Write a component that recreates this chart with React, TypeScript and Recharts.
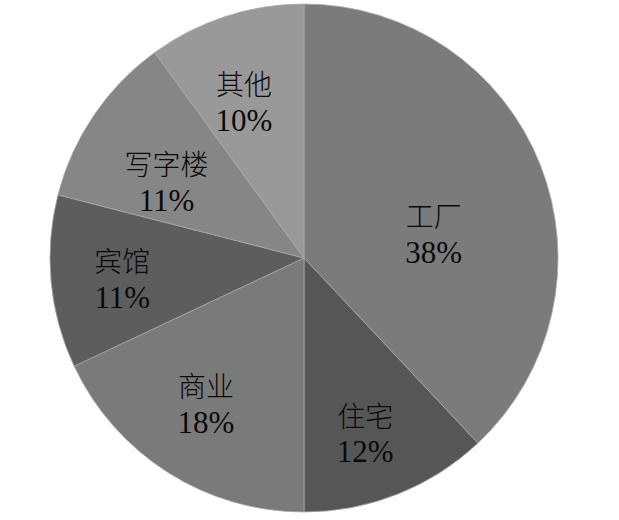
import React from 'react';
import { PieChart, Pie, Cell } from 'recharts';

const categories = ['工厂', '住宅', '商业', '宾馆', '写字楼', '其他'];
const values = [38, 12, 18, 11, 11, 10];
const colors = ['#7b7b7b', '#565656', '#7a7a7a', '#5d5d5d', '#868686', '#999999'];
// label placement tweaks: radial fraction of outer radius, angle nudge (deg)
const labelRadius = [0.52, 0.73, 0.69, 0.72, 0.62, 0.66];
const labelAngleNudge = [-10.7, -2.3, -1.6, 0.9, 5, 3];

const data = categories.map((name, i) => ({ name, value: values[i] }));

const RAD = Math.PI / 180;
const serif = '"Liberation Serif", serif';
const cjk = '"Noto Sans CJK SC", sans-serif';

const renderLabel = (props: any) => {
  const { cx, cy, midAngle, outerRadius, index, name, value } = props;
  const r = outerRadius * labelRadius[index];
  const a = (midAngle + labelAngleNudge[index]) * RAD;
  const x = cx + r * Math.cos(a);
  const y = cy - r * Math.sin(a);
  return (
    <g>
      <text x={x} y={y - 18} textAnchor="middle" dominantBaseline="central" fill="#0a0a0a" fontSize={28} style={{ fontFamily: cjk, fontWeight: 300 }}>
        {name}
      </text>
      <text x={x} y={y + 19} textAnchor="middle" dominantBaseline="central" fill="#0a0a0a" fontSize={31} style={{ fontFamily: serif }}>
        {`${value}%`}
      </text>
    </g>
  );
};

export default function App() {
  return (
    <div style={{ position: 'absolute', left: 0, top: 0, width: 619, height: 520, background: '#fff' }}>
      <PieChart width={619} height={520} margin={{ top: 0, right: 0, bottom: 0, left: 0 }}>
        <Pie
          data={data}
          dataKey="value"
          nameKey="name"
          cx={304}
          cy={258}
          outerRadius={254}
          startAngle={90}
          endAngle={-270}
          stroke="#a8a8a8"
          strokeWidth={0.8}
          label={renderLabel}
          labelLine={false}
          isAnimationActive={false}
        >
          {data.map((d, i) => (
            <Cell key={d.name} fill={colors[i]} />
          ))}
        </Pie>
      </PieChart>
    </div>
  );
}
